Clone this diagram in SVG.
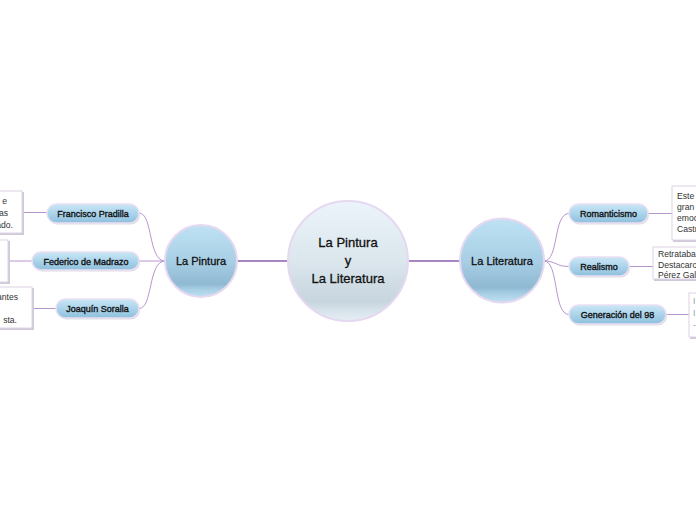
<svg xmlns="http://www.w3.org/2000/svg" width="696" height="520" viewBox="0 0 696 520">
<defs>
<linearGradient id="gCircle" x1="0" y1="0" x2="0" y2="1">
<stop offset="0" stop-color="#bfe2f4"/>
<stop offset="0.5" stop-color="#a8cfe5"/>
<stop offset="0.82" stop-color="#8fb8d2"/>
<stop offset="0.9" stop-color="#a9d0e6"/>
<stop offset="1" stop-color="#bfe0f2"/>
</linearGradient>
<linearGradient id="gCenter" x1="0" y1="0" x2="0" y2="1">
<stop offset="0" stop-color="#ebf4fa"/>
<stop offset="0.5" stop-color="#dbe6ed"/>
<stop offset="0.84" stop-color="#c7d5de"/>
<stop offset="0.92" stop-color="#d8e4ec"/>
<stop offset="1" stop-color="#e6eef4"/>
</linearGradient>
<linearGradient id="gPill" x1="0" y1="0" x2="0" y2="1">
<stop offset="0" stop-color="#c9e7f7"/>
<stop offset="0.6" stop-color="#a6d0e8"/>
<stop offset="1" stop-color="#8ebfdc"/>
</linearGradient>
<style>
.circle{stroke:#e6d8f0;stroke-width:2}
.pill{fill:url(#gPill);stroke:#eadff3;stroke-width:1.5}
.pillshadow{fill:#c9c4cf;opacity:0.6}
.note{fill:#ffffff;stroke:#dcd2e6;stroke-width:1}
.noteshadow{fill:#cfcad6}
.t{font-family:"Liberation Sans",Arial,sans-serif;fill:#111111;stroke:#111111}
.tc{font-size:13px;text-anchor:middle;stroke-width:0.3}
.tm{font-size:11px;text-anchor:middle;stroke-width:0.3}
.tp{font-size:9px;text-anchor:middle;stroke-width:0.35}
.tn{font-family:"Liberation Sans",Arial,sans-serif;font-size:8.6px;fill:#333333}
.tg{font-family:"Liberation Sans",Arial,sans-serif;font-size:8.6px;fill:#999999}
.br{fill:none;stroke:#b696cf;stroke-width:1}
.main{fill:none;stroke:#8d5cae;stroke-width:1.6}
</style>
</defs>
<rect width="696" height="520" fill="#ffffff"/>

<g id="connectors">
<path class="main" d="M237,261 L288,261"/>
<path class="main" d="M408,261 L460,261" stroke="#7c3f9e"/>
<path class="br" d="M139,213 C153,213 148,261 165,261"/>
<path class="br" d="M139,261 L165,261"/>
<path class="br" d="M139,308.5 C153,308.5 148,261 165,261"/>
<path class="br" d="M544,261 C559,261 553,213.5 569,213.5"/>
<path class="br" d="M544,261 C556,261 556,266.5 569,266.5"/>
<path class="br" d="M544,261 C559,261 553,314.5 569,314.5"/>
<path class="br" d="M22,212.5 L47,212.5"/>
<path class="br" d="M8,261 L32,261"/>
<path class="br" d="M32,308.5 L56,308.5"/>
<path class="br" d="M648,213.5 L672,213.5"/>
<path class="br" d="M629,266.5 L653,266.5"/>
<path class="br" d="M666,314.5 L689,314.5"/>
</g>

<g id="center">
<circle class="circle" cx="348" cy="261" r="60" fill="url(#gCenter)"/>
<text class="t tc" x="348" y="247">La Pintura</text>
<text class="t tc" x="348" y="265">y</text>
<text class="t tc" x="348" y="283">La Literatura</text>
</g>

<g id="la-pintura">
<circle class="circle" cx="201" cy="261" r="36" fill="url(#gCircle)"/>
<text class="t tm" x="201" y="265">La Pintura</text>
</g>

<g id="la-literatura">
<circle class="circle" cx="502" cy="260.5" r="42" fill="url(#gCircle)"/>
<text class="t tm" x="502" y="265">La Literatura</text>
</g>

<g id="francisco-pradilla">
<rect class="pillshadow" x="48" y="205.5" width="92" height="19" rx="9.5"/>
<rect class="pill" x="47" y="204" width="92" height="19" rx="9.5"/>
<text class="t tp" x="93" y="216.5">Francisco Pradilla</text>
</g>
<g id="federico-de-madrazo">
<rect class="pillshadow" x="33" y="253.5" width="107" height="18" rx="9"/>
<rect class="pill" x="32" y="252" width="107" height="18" rx="9"/>
<text class="t tp" x="86" y="264.5">Federico de Madrazo</text>
</g>
<g id="joaquin-soralla">
<rect class="pillshadow" x="57" y="300.5" width="83" height="19" rx="9.5"/>
<rect class="pill" x="56" y="299" width="83" height="19" rx="9.5"/>
<text class="t tp" x="97.5" y="311.5">Joaquín Soralla</text>
</g>

<g id="romanticismo">
<rect class="pillshadow" x="570" y="205.5" width="79" height="19" rx="9.5"/>
<rect class="pill" x="569" y="204" width="79" height="19" rx="9.5"/>
<text class="t tp" x="608.5" y="216.5">Romanticismo</text>
</g>
<g id="realismo">
<rect class="pillshadow" x="570" y="258.5" width="60" height="19" rx="9.5"/>
<rect class="pill" x="569" y="257" width="60" height="19" rx="9.5"/>
<text class="t tp" x="599" y="269.5">Realismo</text>
</g>
<g id="generacion-del-98">
<rect class="pillshadow" x="570" y="306.5" width="97" height="19" rx="9.5"/>
<rect class="pill" x="569" y="305" width="97" height="19" rx="9.5"/>
<text class="t tp" x="617.5" y="317.5">Generación del 98</text>
</g>

<g id="note-pradilla">
<rect class="noteshadow" x="-10" y="192" width="34" height="43"/>
<rect class="note" x="-10" y="191" width="32" height="42"/>
<text class="tn" x="7" y="204" text-anchor="end">e</text>
<text class="tn" x="8" y="216" text-anchor="end">as</text>
<text class="tn" x="13" y="228" text-anchor="end">ado.</text>
</g>
<g id="note-madrazo">
<rect class="noteshadow" x="-10" y="241" width="20" height="43"/>
<rect class="note" x="-10" y="240" width="18" height="42"/>
</g>
<g id="note-soralla">
<rect class="noteshadow" x="-10" y="288" width="44" height="42"/>
<rect class="note" x="-10" y="287" width="42" height="41"/>
<text class="tn" x="18" y="300" text-anchor="end">antes</text>
<text class="tn" x="17" y="323" text-anchor="end">sta.</text>
</g>

<g id="note-romanticismo">
<rect class="noteshadow" x="673" y="187" width="40" height="55"/>
<rect class="note" x="672" y="186" width="40" height="54"/>
<text class="tn" x="677" y="199">Este</text>
<text class="tn" x="677" y="210">gran</text>
<text class="tn" x="677" y="221">emoc</text>
<text class="tn" x="677" y="232">Castr</text>
</g>
<g id="note-realismo">
<rect class="noteshadow" x="654" y="248" width="60" height="33"/>
<rect class="note" x="653" y="247" width="60" height="32"/>
<text class="tn" x="658" y="257">Retrataba</text>
<text class="tn" x="658" y="268">Destacaro</text>
<text class="tn" x="658" y="278">Pérez Gald</text>
</g>
<g id="note-generacion">
<rect class="noteshadow" x="690" y="294" width="20" height="45"/>
<rect class="note" x="689" y="293" width="20" height="44"/>
<text class="tg" x="693" y="304">I</text>
<text class="tg" x="693" y="316">I</text>
<text class="tg" x="693" y="328">-</text>
</g>
</svg>
